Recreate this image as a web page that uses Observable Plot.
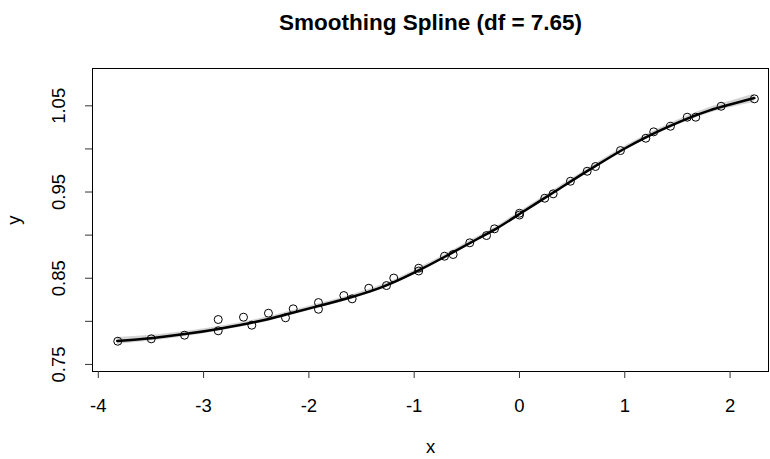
<!DOCTYPE html>
<html>
<head>
<meta charset="utf-8">
<script src="https://cdn.jsdelivr.net/npm/d3@7"></script>
<script src="https://cdn.jsdelivr.net/npm/@observablehq/plot@0.6"></script>
<style>
  html, body { margin: 0; padding: 0; background: white; }
</style>
</head>
<body>
<div id="chart"></div>
<script>
// Observed points
const pointX = [-3.815, -3.497, -3.181, -2.861, -2.861, -2.621, -2.542, -2.384, -2.222, -2.149,
  -1.909, -1.909, -1.668, -1.589, -1.431, -1.263, -1.194, -0.957, -0.957, -0.712,
  -0.630, -0.472, -0.313, -0.237, 0.000, 0.000, 0.240, 0.320, 0.484, 0.643,
  0.722, 0.959, 1.200, 1.275, 1.434, 1.593, 1.674, 1.915, 2.231];
const pointY = [0.7769, 0.7797, 0.7839, 0.8021, 0.7890, 0.8048, 0.7955, 0.8094, 0.8041, 0.8145,
  0.8218, 0.8140, 0.8299, 0.8261, 0.8384, 0.8415, 0.8502, 0.8616, 0.8584, 0.8755,
  0.8775, 0.8911, 0.8995, 0.9073, 0.9254, 0.9233, 0.9428, 0.9479, 0.9625, 0.9741,
  0.9796, 0.9981, 1.0124, 1.0198, 1.0263, 1.0368, 1.0368, 1.0495, 1.0581];

// Fitted smoothing spline and its band half-width
const fitX = [-3.82, -3.5, -3.18, -2.86, -2.5, -2.2, -1.9, -1.6, -1.3, -1.0, -0.7, -0.4, -0.2,
  0.0, 0.2, 0.4, 0.6, 0.8, 1.0, 1.2, 1.4, 1.6, 1.8, 2.0, 2.23];
const fitY = [0.7772, 0.7805, 0.7852, 0.7912, 0.7995, 0.8085, 0.8180, 0.8280, 0.8400, 0.8565,
  0.8755, 0.8955, 0.9090, 0.9245, 0.9400, 0.9555, 0.9710, 0.9860, 1.0005, 1.0135,
  1.0250, 1.0355, 1.0445, 1.0515, 1.0590];
const fitSE = [0.0040, 0.0033, 0.0030, 0.0028, 0.0027, 0.0026, 0.0026, 0.0026, 0.0026, 0.0026,
  0.0026, 0.0026, 0.0026, 0.0026, 0.0026, 0.0026, 0.0026, 0.0026, 0.0026, 0.0027,
  0.0028, 0.0030, 0.0033, 0.0038, 0.0048];

const xTicks = [-4, -3, -2, -1, 0, 1, 2];
const yTicks = [0.75, 0.80, 0.85, 0.90, 0.95, 1.00, 1.05];
const yLabels = ["0.75", "0.85", "0.95", "1.05"];
const titleText = "Smoothing Spline (df = 7.65)";

const points = pointX.map((x, i) => ({x, y: pointY[i]}));
const fit = fitX.map((x, i) => ({x, y: fitY[i], lo: fitY[i] - fitSE[i], hi: fitY[i] + fitSE[i]}));

const font = "'Liberation Sans', Arial, Helvetica, sans-serif";
const fs = 18.5;

const chart = Plot.plot({
  width: 770,
  height: 459,
  marginTop: 68,
  marginBottom: 88,
  marginLeft: 92,
  marginRight: 2,
  style: {fontFamily: font, fontSize: fs + "px", background: "white", color: "black"},
  x: {domain: [-4.055, 2.365]},
  y: {domain: [0.7418, 1.0933]},
  marks: [
    Plot.areaY(fit, {x: "x", y1: "lo", y2: "hi", fill: "#b8b8b8", fillOpacity: 0.6, curve: "natural"}),
    Plot.line(fit, {x: "x", y: "y", stroke: "black", strokeWidth: 2.5, curve: "natural"}),
    Plot.dot(points, {x: "x", y: "y", r: 4, stroke: "black", strokeWidth: 1, fill: "none"}),
    Plot.frame({stroke: "black", strokeWidth: 1}),
    Plot.axisX({ticks: xTicks, tickSize: 7, tickPadding: 20, tickFormat: d => String(d), label: null, fontSize: fs, stroke: "#333"}),
    Plot.axisY({ticks: yTicks, tickSize: 7, tickFormat: () => "", label: null, stroke: "#333"}),
    Plot.text(yLabels, {y: d => +d, text: d => d, frameAnchor: "left", textAnchor: "middle", lineAnchor: "middle", dx: -33.5, rotate: -90, fontSize: fs, fill: "black"}),
    Plot.text([titleText], {frameAnchor: "top", textAnchor: "middle", lineAnchor: "middle", dy: -46, text: d => d, fontSize: 22.5, fontWeight: "bold", fill: "black"}),
    Plot.text(["x"], {frameAnchor: "bottom", textAnchor: "middle", lineAnchor: "middle", dy: 76, text: d => d, fontSize: fs, fill: "black"}),
    Plot.text(["y"], {frameAnchor: "left", textAnchor: "middle", lineAnchor: "middle", dx: -78, text: d => d, rotate: -90, fontSize: fs, fill: "black"})
  ]
});
document.getElementById("chart").appendChild(chart);
</script>
</body>
</html>
